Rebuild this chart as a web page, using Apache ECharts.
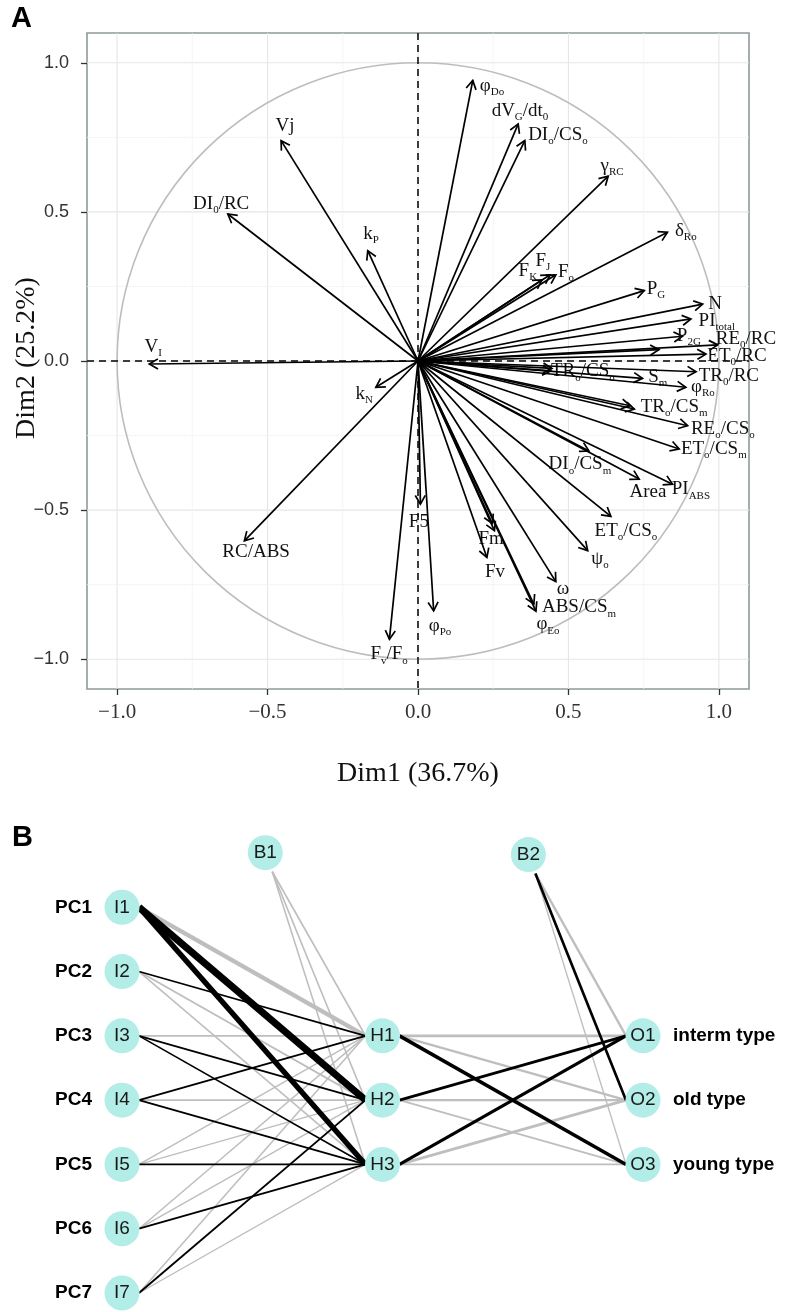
<!DOCTYPE html>
<html><head><meta charset="utf-8">
<script src="https://cdn.jsdelivr.net/npm/echarts@6/dist/echarts.min.js"></script>
<style>html,body{margin:0;padding:0;background:#fff}#c{width:786px;height:1312px}</style>
</head><body><div id="c"></div>
<script>
// ---------- Panel A: PCA variable correlation circle ----------
const varNames = ['φ_{Do}','dV_{G}/dt_{0}','DI_{o}/CS_{o}','γ_{RC}','δ_{Ro}','F_{K}','F_{J}','F_{o}','P_{G}','N','PI_{total}','P_{2G}','RE_{0}/RC','ET_{0}/RC','',
  'TR_{o}/CS_{o}','','TR_{0}/RC','S_{m}','φ_{Ro}','TR_{o}/CS_{m}','','RE_{o}/CS_{o}','ET_{o}/CS_{m}','DI_{o}/CS_{m}','Area','PI_{ABS}','ET_{o}/CS_{o}','ψ_{o}','ω',
  'ABS/CS_{m}','φ_{Eo}','Fm','','Fv','F5','φ_{Po}','F_{v}/F_{o}','Vj','DI_{0}/RC','k_{P}','V_{I}','k_{N}','RC/ABS'];
const dim1 = [0.182,0.333,0.355,0.632,0.829,0.412,0.439,0.458,0.752,0.946,0.907,0.879,0.996,0.957,0.801,
  0.442,0.445,0.924,0.746,0.890,0.719,0.705,0.896,0.868,0.568,0.735,0.846,0.641,0.564,0.458,
  0.392,0.385,0.254,0.247,0.229,0.008,0.052,-0.095,-0.455,-0.632,-0.167,-0.893,-0.140,-0.577];
const dim2 = [0.941,0.795,0.739,0.620,0.432,0.272,0.289,0.289,0.236,0.191,0.141,0.083,0.054,0.023,0.038,
  -0.033,-0.025,-0.036,-0.058,-0.088,-0.161,-0.150,-0.217,-0.295,-0.302,-0.396,-0.413,-0.521,-0.636,-0.740,
  -0.839,-0.815,-0.569,-0.545,-0.659,-0.480,-0.838,-0.933,0.739,0.493,0.370,-0.010,-0.088,-0.603];
const labelDim1 = [0.246,0.339,0.465,0.645,0.890,0.365,0.415,0.492,0.791,0.987,0.993,0.900,1.090,1.060,0,
  0.548,0,1.033,0.797,0.947,0.851,0,1.013,0.983,0.538,0.764,0.907,0.691,0.605,0.482,
  0.535,0.432,0.243,0,0.256,0.003,0.073,-0.096,-0.442,-0.654,-0.156,-0.880,-0.179,-0.538];
const labelDim2 = [0.923,0.839,0.758,0.654,0.436,0.302,0.336,0.299,0.242,0.191,0.134,0.084,0.074,0.017,0,
  -0.034,0,-0.050,-0.054,-0.087,-0.154,0,-0.228,-0.295,-0.346,-0.440,-0.430,-0.570,-0.664,-0.765,
  -0.826,-0.883,-0.597,0,-0.708,-0.540,-0.889,-0.983,0.789,0.527,0.426,0.047,-0.111,-0.641];
const axisTicks = [-1, -0.5, 0, 0.5, 1];
const minorGrid = [-0.75, -0.25, 0.25, 0.75];
const xTitle = 'Dim1 (36.7%)';
const yTitle = 'Dim2 (25.2%)';

// ---------- Panel B: neural network ----------
const inputNodes = ['I1','I2','I3','I4','I5','I6','I7'];
const inputLabels = ['PC1','PC2','PC3','PC4','PC5','PC6','PC7'];
const hiddenNodes = ['H1','H2','H3'];
const outputNodes = ['O1','O2','O3'];
const outputLabels = ['interm type','old type','young type'];
const biasNodes = ['B1','B2'];
// weights [H1,H2,H3] for each input
const wInputHidden = [
  [-3.0, 5.5, 4.0],
  [0.6, -0.7, -0.5],
  [-0.5, 0.6, 0.6],
  [0.8, -0.7, 0.8],
  [-0.4, -0.4, 0.8],
  [-0.4, -0.4, 0.8],
  [-0.5, 0.8, -0.3]
];
const wBiasHidden = [-0.7, -0.5, -0.5];
// weights [O1,O2,O3] for each hidden
const wHiddenOutput = [
  [-1.5, -1.2, 2.3],
  [1.5, -1.0, -0.7],
  [2.0, -1.6, -0.6]
];
const wBiasOutput = [-1.2, 1.5, -0.3];

// ---------- helpers ----------
const SERIF = "'Liberation Serif','Times New Roman',serif";
const SANS = "'Liberation Sans',Arial,sans-serif";
function toRich(s) {
  return s.split(/(_\{[^}]*\})/).filter(p => p.length).map(p =>
    p.startsWith('_{') ? '{s|' + p.slice(2, -1) + '}' : '{m|' + p + '}').join('');
}
const richStyles = {
  m: {fontSize: 19, fontFamily: SERIF, fill: '#111', lineHeight: 24},
  s: {fontSize: 11, fontFamily: SERIF, fill: '#111', lineHeight: 13, verticalAlign: 'bottom'}
};
const fmt = v => (v < 0 ? '\u2212' : '') + Math.abs(v).toFixed(1);

// network layout (layer position, row)
const nIn = inputNodes.length;
const hiddenRow0 = (nIn - hiddenNodes.length) / 2;
const biasRow = -0.85;
const nodes = [];
inputNodes.forEach((n, i) => nodes.push([0, i, n]));
hiddenNodes.forEach((n, j) => nodes.push([1, hiddenRow0 + j, n]));
outputNodes.forEach((n, k) => nodes.push([2, hiddenRow0 + k, n]));
nodes.push([0.55, biasRow, biasNodes[0]]);
nodes.push([1.56, biasRow + 0.03, biasNodes[1]]);

const sideLabels = [];
inputLabels.forEach((n, i) => sideLabels.push([0, i, -1, n]));
outputLabels.forEach((n, k) => sideLabels.push([2, hiddenRow0 + k, 1, n]));

const edges = [];
wInputHidden.forEach((row, i) => row.forEach((w, j) => edges.push([0, i, 1, hiddenRow0 + j, w, 0])));
wBiasHidden.forEach((w, j) => edges.push([0.55, biasRow, 1, hiddenRow0 + j, w, 1]));
wHiddenOutput.forEach((row, j) => row.forEach((w, k) => edges.push([1, hiddenRow0 + j, 2, hiddenRow0 + k, w, 0])));
wBiasOutput.forEach((w, k) => edges.push([1.56, biasRow + 0.03, 2, hiddenRow0 + k, w, 1]));
edges.sort((a, b) => (a[4] > 0) - (b[4] > 0));

const chart = echarts.init(document.getElementById('c'));
chart.setOption({
  animation: false,
  backgroundColor: '#fff',
  graphic: [
    {type: 'text', left: 11, top: 4, style: {text: 'A', font: 'bold 29px ' + SANS, fill: '#000'}},
    {type: 'text', left: 12, top: 823, style: {text: 'B', font: 'bold 29px ' + SANS, fill: '#000'}},
    {type: 'text', x: 27, y: 358, rotation: Math.PI / 2,
      style: {text: yTitle, font: '28px ' + SERIF, fill: '#111', align: 'center', verticalAlign: 'middle'}}
  ],
  grid: [
    {left: 87, right: 37, top: 33, bottom: 623, outerBoundsMode: 'none', containLabel: false,
      show: true, borderColor: '#8f999b', borderWidth: 1.6, backgroundColor: '#fff'},
    {left: 122, right: 143, top: 843, bottom: 19, outerBoundsMode: 'none', containLabel: false}
  ],
  xAxis: [
    {gridIndex: 0, type: 'value', min: -1.1, max: 1.1,
      axisLine: {show: false, onZero: false},
      axisTick: {show: true, customValues: axisTicks, length: 6, lineStyle: {color: '#333', width: 1.3}},
      axisLabel: {customValues: axisTicks, formatter: fmt, fontFamily: SERIF, fontSize: 21, color: '#333', margin: 13},
      splitLine: {show: false},
      name: xTitle, nameLocation: 'middle', nameGap: 71,
      nameTextStyle: {fontFamily: SERIF, fontSize: 28, color: '#111'}},
    {gridIndex: 1, type: 'value', min: 0, max: 2, show: false}
  ],
  yAxis: [
    {gridIndex: 0, type: 'value', min: -1.1, max: 1.1,
      axisLine: {show: false, onZero: false},
      axisTick: {show: true, customValues: axisTicks, length: 6, lineStyle: {color: '#333', width: 1.3}},
      axisLabel: {customValues: axisTicks, formatter: fmt, fontFamily: SANS, fontSize: 18, color: '#333', margin: 18},
      splitLine: {show: false}},
    {gridIndex: 1, type: 'value', min: -1, max: 6, inverse: true, show: false}
  ],
  series: [
    // grid lines
    {type: 'custom', xAxisIndex: 0, yAxisIndex: 0, z: 1, silent: true,
      data: axisTicks.map(v => [v, 1]).concat(minorGrid.map(v => [v, 0])),
      renderItem: (params, api) => {
        const cs = params.coordSys;
        const v = api.value(0), major = api.value(1) === 1;
        const px = api.coord([v, 0])[0], py = api.coord([0, v])[1];
        const st = {stroke: major ? '#e6e6e6' : '#f3f3f3', lineWidth: major ? 1.1 : 0.8};
        return {type: 'group', children: [
          {type: 'line', shape: {x1: px, y1: cs.y, x2: px, y2: cs.y + cs.height}, style: st},
          {type: 'line', shape: {x1: cs.x, y1: py, x2: cs.x + cs.width, y2: py}, style: st}
        ]};
      }},
    // correlation circle
    {type: 'custom', xAxisIndex: 0, yAxisIndex: 0, z: 2, silent: true,
      data: [[0, 0]],
      renderItem: (params, api) => {
        const c = api.coord([0, 0]);
        const sx = api.size([1, 0])[0], sy = api.size([0, 1])[1];
        return {type: 'circle', x: c[0], y: c[1], scaleY: sy / sx,
          shape: {cx: 0, cy: 0, r: sx},
          style: {stroke: '#bdbdbd', fill: 'none', lineWidth: 1.6}};
      }},
    // dashed zero lines
    {type: 'custom', xAxisIndex: 0, yAxisIndex: 0, z: 3, silent: true,
      data: [[0, 0]],
      renderItem: (params, api) => {
        const cs = params.coordSys;
        const c = api.coord([0, 0]);
        const st = {stroke: '#000', lineWidth: 1.5, lineDash: [7, 5]};
        return {type: 'group', children: [
          {type: 'line', shape: {x1: c[0], y1: cs.y, x2: c[0], y2: cs.y + cs.height}, style: st},
          {type: 'line', shape: {x1: cs.x, y1: c[1], x2: cs.x + cs.width, y2: c[1]}, style: st}
        ]};
      }},
    // arrows + labels
    {type: 'custom', xAxisIndex: 0, yAxisIndex: 0, z: 4, silent: true, clip: false,
      data: varNames.map((n, i) => [dim1[i], dim2[i], labelDim1[i], labelDim2[i]]),
      renderItem: (params, api) => {
        const o = api.coord([0, 0]);
        const t = api.coord([api.value(0), api.value(1)]);
        const ang = Math.atan2(t[1] - o[1], t[0] - o[0]);
        const L = 10, a = Math.PI / 6;
        const p1 = [t[0] - L * Math.cos(ang - a), t[1] - L * Math.sin(ang - a)];
        const p2 = [t[0] - L * Math.cos(ang + a), t[1] - L * Math.sin(ang + a)];
        const children = [
          {type: 'line', shape: {x1: o[0], y1: o[1], x2: t[0], y2: t[1]}, style: {stroke: '#000', lineWidth: 1.7}},
          {type: 'polyline', shape: {points: [p1, t, p2]}, style: {stroke: '#000', lineWidth: 1.7, fill: 'none'}}
        ];
        const name = varNames[params.dataIndex];
        if (name) {
          const lp = api.coord([api.value(2), api.value(3)]);
          children.push({type: 'text', x: lp[0], y: lp[1],
            style: {text: toRich(name), rich: richStyles, align: 'center', verticalAlign: 'middle'}});
        }
        return {type: 'group', children};
      }},
    // network edges
    {type: 'custom', xAxisIndex: 1, yAxisIndex: 1, z: 2, silent: true, clip: false,
      data: edges,
      renderItem: (params, api) => {
        const a = api.coord([api.value(0), api.value(1)]);
        const b = api.coord([api.value(2), api.value(3)]);
        const w = api.value(4), bias = api.value(5) === 1;
        const r = 17;
        const s = bias ? [a[0] + 7, a[1] + 19] : [a[0] + r, a[1]];
        return {type: 'line', shape: {x1: s[0], y1: s[1], x2: b[0] - r, y2: b[1]},
          style: {stroke: w > 0 ? '#000' : '#bebebe', lineWidth: 1 + Math.abs(w) * 1.1}};
      }},
    // nodes
    {type: 'scatter', xAxisIndex: 1, yAxisIndex: 1, z: 5, silent: true, clip: false,
      symbolSize: 35, data: nodes,
      itemStyle: {color: '#b3ede8', opacity: 1},
      label: {show: true, position: 'inside', formatter: p => p.data[2], fontFamily: SANS, fontSize: 19, color: '#1a1a1a'}},
    // input / output side labels
    {type: 'custom', xAxisIndex: 1, yAxisIndex: 1, z: 6, silent: true, clip: false,
      data: sideLabels.map(d => [d[0], d[1], d[2]]),
      renderItem: (params, api) => {
        const c = api.coord([api.value(0), api.value(1)]);
        const side = api.value(2);
        return {type: 'text', x: c[0] + side * 30, y: c[1],
          style: {text: sideLabels[params.dataIndex][3], font: 'bold 19px ' + SANS, fill: '#000',
            align: side < 0 ? 'right' : 'left', verticalAlign: 'middle'}};
      }}
  ]
});
</script></body></html>
